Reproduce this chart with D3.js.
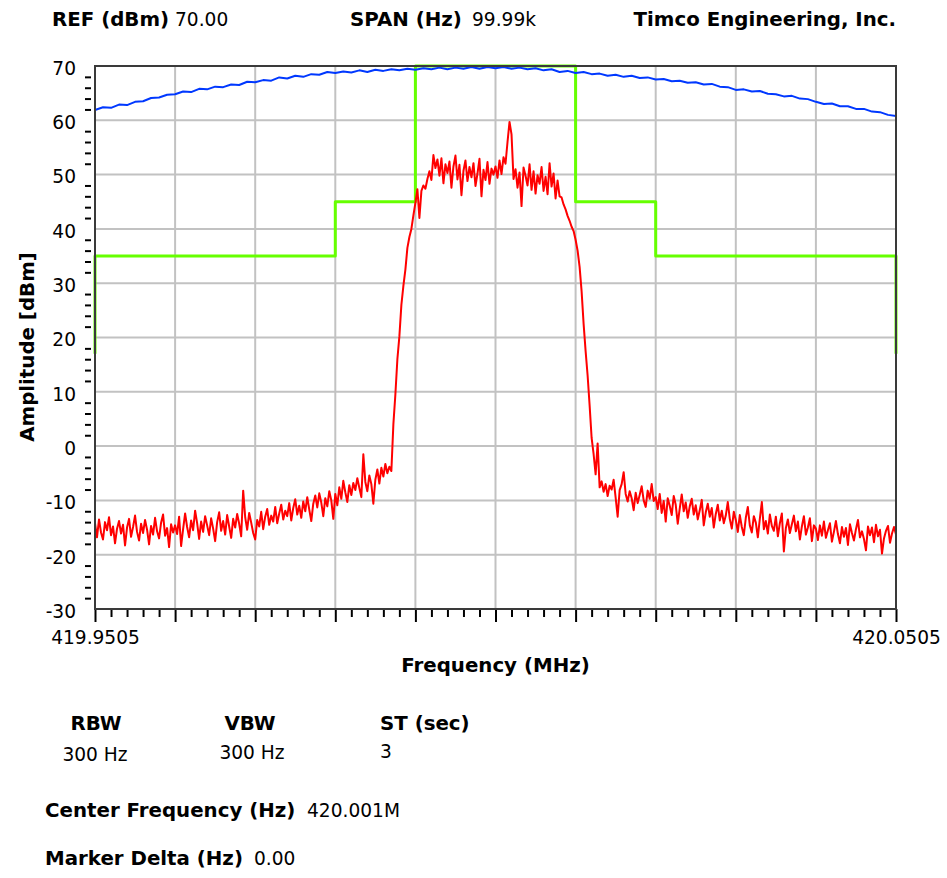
<!DOCTYPE html>
<html lang="en">
<head>
    <meta charset="UTF-8">
    <title>Spectrum Plot - Timco Engineering</title>
    <script src="https://d3js.org/d3.v7.min.js"></script>
    <style>
        body {
            margin: 0;
            background: #fff;
        }
        text {
            font-family: "DejaVu Sans", Verdana, sans-serif;
            fill: #000;
        }
        .bold {
            font-weight: bold;
            font-size: 19.8px;
        }
        .value {
            font-size: 18.6px;
        }
        .grid line {
            stroke: #c2c2c2;
            stroke-width: 2;
        }
        .tick-marks line {
            stroke: #000;
            stroke-width: 2;
        }
        .trace {
            fill: none;
            stroke-linejoin: round;
        }
    </style>
</head>
<body>

<div id="chart"></div>

<script>
    // sweep settings
    const startMHz = 419.9505;
    const stopMHz = 420.0505;
    const ampTicks = [70, 60, 50, 40, 30, 20, 10, 0, -10, -20, -30];
    const freqLabels = ["419.9505", "420.0505"];

    // measured trace (red), one sample every 0.25 kHz from the start frequency
    const traceStepKHz = 0.25;
    const measured = [
        -14.2, -16.8, -13.5, -15.9, -17.2, -14.0, -15.5, -13.1, -16.4, -14.8,
        -17.9, -15.2, -13.8, -16.1, -14.5, -18.3, -15.0, -13.4, -16.7, -14.9,
        -12.8, -15.8, -17.4, -14.3, -16.0, -13.6, -15.4, -18.1, -14.7, -16.3,
        -13.2, -15.7, -17.0, -14.1, -12.6, -16.5, -15.1, -18.6, -14.4, -15.9,

        -14.6, -16.2, -13.0, -18.4, -15.3, -12.4, -14.9, -16.8, -13.7, -15.5,
        -11.9, -14.2, -17.1, -13.9, -15.8, -12.9, -14.6, -16.4, -13.3, -15.2,
        -17.5, -14.0, -12.2, -15.6, -13.8, -16.3, -12.7, -14.8, -16.9, -13.4,
        -15.0, -12.5, -14.3, -16.6, -8.2, -13.1, -15.4, -12.3, -14.1, -16.0,

        -17.2, -13.6, -14.8, -12.1, -15.3, -13.0, -11.6, -14.5, -12.8, -13.9,
        -11.2, -14.2, -12.4, -10.8, -13.5, -11.9, -12.9, -10.5, -13.7, -11.4,
        -9.8, -12.6, -11.0, -13.2, -10.2, -12.0, -9.4, -11.7, -13.8, -10.6,
        -9.1, -11.3, -8.7, -10.4, -12.9, -9.6, -11.1, -8.3, -10.0, -13.4,

        -8.8, -10.9, -7.6, -9.7, -6.4, -8.5, -10.3, -7.2, -9.0, -6.8,
        -8.1, -5.9, -7.7, -9.4, -1.5, -6.6, -8.3, -5.4, -7.0, -10.6,
        -6.2, -4.3, -6.9, -4.0, -5.6, -3.3, -5.0, -3.8, -4.6, 4.0,
        9.5, 16.0, 20.2, 26.0, 29.5, 32.5, 36.5, 38.5, 40.0, 42.5,

        44.8, 47.3, 42.0, 47.0, 48.0, 47.4, 49.2, 50.6, 49.0, 53.6,
        51.2, 52.8, 49.8, 53.0, 48.4, 51.9, 50.3, 52.4, 47.6, 51.5,
        53.5, 49.1, 51.8, 46.2, 50.7, 52.6, 48.8, 51.4, 49.5, 52.1,
        47.9, 50.2, 52.9, 46.0, 50.9, 49.0, 52.3, 48.3, 51.1, 50.0,

        51.5, 49.4, 52.6, 50.1, 53.2, 52.0, 56.0, 59.7, 57.4, 49.2,
        51.0, 47.6, 50.4, 44.2, 51.3, 49.8, 48.0, 51.9, 47.2, 50.6,
        46.5, 49.9, 48.3, 51.4, 47.0, 49.6, 46.4, 52.1, 47.8, 50.2,
        45.6, 48.9, 46.0, 45.8, 44.5, 43.6, 42.4, 41.5, 40.4, 39.6,

        38.0, 36.0, 33.0, 28.5, 22.5, 17.5, 13.0, 7.5, 1.5, -1.5,
        -5.2, 0.5, -7.6, -6.5, -8.4, -7.0, -9.2, -7.3, -8.0, -6.2,
        -9.5, -13.0, -8.1, -7.0, -4.8, -8.8, -10.2, -8.3, -9.6, -11.8,
        -8.6, -10.5, -9.0, -7.4, -10.0, -11.2, -8.2, -9.7, -7.0, -10.1,

        -9.4, -11.6, -8.8, -12.3, -10.1, -13.9, -9.6, -11.0, -12.7, -9.2,
        -10.8, -14.3, -11.5, -8.9, -12.0, -10.4, -13.2, -11.1, -9.7, -12.6,
        -10.9, -13.5, -11.8, -9.9, -14.6, -12.2, -10.6, -13.0, -11.4, -15.0,
        -12.5, -10.8, -13.7, -11.9, -14.2, -12.8, -10.3, -13.4, -15.2, -12.1,

        -13.6, -15.8, -12.7, -14.9, -16.4, -13.2, -11.2, -14.6, -15.9, -12.9,
        -14.1, -16.8, -13.4, -10.3, -15.3, -13.8, -16.1, -12.6, -14.7, -15.6,
        -13.0, -16.6, -14.2, -12.4, -19.4, -15.1, -13.5, -16.0, -14.4, -12.8,
        -15.7, -13.9, -17.2, -14.8, -12.9, -16.3, -15.0, -13.3, -17.5, -14.6,

        -15.2, -17.3, -14.6, -16.5, -13.9, -16.9, -15.5, -14.2, -17.6, -15.8,
        -13.8, -16.2, -17.9, -14.9, -16.7, -15.1, -18.2, -14.4, -16.0, -17.4,
        -15.3, -13.6, -16.8, -15.7, -17.1, -19.2, -14.8, -16.4, -15.0, -17.7,
        -14.5, -16.6, -15.4, -19.8, -17.0, -15.6, -14.7, -17.8, -16.1, -14.9,
        -16.3
    ];

    // reference sweep (blue), one sample every 1 kHz
    const refStepKHz = 1;
    const reference = [
        61.9, 62.4, 62.3, 62.9, 62.8, 63.4, 63.5, 64.1, 64.2, 64.7,
        64.8, 65.3, 65.2, 65.8, 65.7, 66.2, 66.1, 66.6, 66.5, 67.1,
        67.0, 67.4, 67.3, 67.9, 67.7, 68.2, 68.0, 68.5, 68.4, 68.9,
        68.7, 69.0, 68.8, 69.2, 68.9, 69.3, 69.1, 69.4, 69.2, 69.5,
        69.3, 69.6, 69.4, 69.7, 69.4, 69.7, 69.5, 69.8, 69.5, 69.8,
        69.6, 69.8, 69.5, 69.7, 69.4, 69.6, 69.2, 69.4, 68.9, 69.1,
        68.7, 68.9, 68.5, 68.6, 68.2, 68.4, 68.0, 68.2, 67.8, 67.9,
        67.5, 67.6, 67.2, 67.3, 66.9, 67.0, 66.6, 66.7, 66.2, 66.1,
        65.6, 65.7, 65.3, 65.4, 64.9, 64.8, 64.4, 64.5, 64.0, 63.9,
        63.4, 63.0, 63.1, 62.6, 62.6, 62.1, 62.1, 61.6, 61.5, 61.0,
        60.8
    ];

    // emission mask (green): offset from start in kHz and limit in dBm
    const maskKHz  = [0, 0, 30, 30, 40, 40, 60, 60, 70, 70, 100, 100];
    const maskDbm  = [17, 35, 35, 45, 45, 70, 70, 45, 45, 35, 35, 17];

    const margin = { top: 66, right: 51, bottom: 269, left: 95 };
    const width = 947 - margin.left - margin.right;
    const height = 878 - margin.top - margin.bottom;

    const root = d3.select("#chart").append("svg")
        .attr("width", 947)
        .attr("height", 878);

    const svg = root.append("g")
        .attr("transform", "translate(" + margin.left + "," + margin.top + ")");

    const x = d3.scaleLinear()
        .domain([startMHz, stopMHz])
        .range([0, width]);

    const y = d3.scaleLinear()
        .domain([-30, 70])
        .range([height, 0]);

    const spanMHz = stopMHz - startMHz;
    const majorFreqs = d3.range(11).map(i => startMHz + i * spanMHz / 10);
    const minorFreqs = d3.range(51).map(i => startMHz + i * spanMHz / 50)
        .filter((d, i) => i % 5 !== 0);
    const minorAmps = d3.range(-30, 71, 2).filter(d => d % 10 !== 0);

    // grid
    svg.append("g")
        .attr("class", "grid")
        .selectAll("line.v")
        .data(majorFreqs.slice(1, -1))
        .enter().append("line")
        .attr("x1", d => x(d)).attr("x2", d => x(d))
        .attr("y1", 0).attr("y2", height);

    svg.select(".grid")
        .selectAll("line.h")
        .data(ampTicks.slice(1, -1))
        .enter().append("line")
        .attr("x1", 0).attr("x2", width)
        .attr("y1", d => y(d)).attr("y2", d => y(d));

    // y axis: minor dashes only, then labels (plain hyphen for negatives)
    svg.append("g")
        .attr("class", "tick-marks")
        .attr("transform", "translate(-4,0)")
        .call(d3.axisLeft(y).tickValues(minorAmps).tickSize(6).tickFormat(""))
        .call(g => g.select(".domain").remove());

    svg.append("g")
        .call(d3.axisLeft(y).tickValues(ampTicks).tickSize(0).tickPadding(19).tickFormat(d => String(d)))
        .call(g => g.select(".domain").remove())
        .selectAll("text")
        .attr("class", "value")
        .attr("dy", "0.45em");

    // x axis: major and minor ticks, labels only at the ends
    svg.append("g")
        .attr("class", "tick-marks")
        .attr("transform", "translate(0," + height + ")")
        .call(d3.axisBottom(x).tickValues(minorFreqs).tickSize(8).tickFormat(""))
        .call(g => g.select(".domain").remove());

    svg.append("g")
        .attr("class", "tick-marks")
        .attr("transform", "translate(0," + height + ")")
        .call(d3.axisBottom(x).tickValues(majorFreqs).tickSize(13).tickPadding(9)
            .tickFormat((d, i) => i === 0 ? freqLabels[0] : (i === majorFreqs.length - 1 ? freqLabels[1] : "")))
        .call(g => g.select(".domain").remove())
        .selectAll("text")
        .attr("class", "value");

    // traces
    const maskData = maskKHz.map((k, i) => ({ f: startMHz + k / 1000, v: maskDbm[i] }));
    const measuredData = measured.map((v, i) => ({ f: startMHz + i * traceStepKHz / 1000, v: v }));
    const referenceData = reference.map((v, i) => ({ f: startMHz + i * refStepKHz / 1000, v: v }));

    const line = d3.line()
        .x(d => x(d.f))
        .y(d => y(d.v));

    svg.append("path")
        .datum(maskData)
        .attr("class", "trace")
        .attr("stroke", "#66ff00")
        .attr("stroke-width", 3)
        .attr("d", line);

    svg.append("path")
        .datum(measuredData)
        .attr("class", "trace")
        .attr("stroke", "#ff0000")
        .attr("stroke-width", 2)
        .attr("d", line);

    svg.append("path")
        .datum(referenceData)
        .attr("class", "trace")
        .attr("stroke", "#0038ff")
        .attr("stroke-width", 2)
        .attr("d", line);

    // plot frame
    svg.append("rect")
        .attr("width", width)
        .attr("height", height)
        .attr("fill", "none")
        .attr("stroke", "#3a3a3a")
        .attr("stroke-width", 2);

    // axis titles
    root.append("text")
        .attr("class", "bold")
        .attr("text-anchor", "middle")
        .attr("transform", "translate(34,347) rotate(-90)")
        .text("Amplitude [dBm]");

    root.append("text")
        .attr("class", "bold")
        .attr("text-anchor", "middle")
        .attr("x", margin.left + width / 2)
        .attr("y", 672)
        .text("Frequency (MHz)");

    // header
    const header = root.append("g");
    header.append("text").attr("class", "bold").attr("x", 52).attr("y", 26).text("REF (dBm)");
    header.append("text").attr("class", "value").attr("x", 175).attr("y", 26).text("70.00");
    header.append("text").attr("class", "bold").attr("x", 350).attr("y", 26).text("SPAN (Hz)");
    header.append("text").attr("class", "value").attr("x", 472).attr("y", 26).text("99.99k");
    header.append("text").attr("class", "bold").attr("x", 896).attr("y", 26)
        .attr("text-anchor", "end").text("Timco Engineering, Inc.");

    // settings block
    const info = root.append("g");
    info.append("text").attr("class", "bold").attr("x", 96).attr("y", 730)
        .attr("text-anchor", "middle").text("RBW");
    info.append("text").attr("class", "value").attr("x", 95).attr("y", 761)
        .attr("text-anchor", "middle").text("300 Hz");
    info.append("text").attr("class", "bold").attr("x", 250).attr("y", 730)
        .attr("text-anchor", "middle").text("VBW");
    info.append("text").attr("class", "value").attr("x", 252).attr("y", 759)
        .attr("text-anchor", "middle").text("300 Hz");
    info.append("text").attr("class", "bold").attr("x", 380).attr("y", 730).text("ST (sec)");
    info.append("text").attr("class", "value").attr("x", 380).attr("y", 758).text("3");

    info.append("text").attr("class", "bold").attr("x", 45).attr("y", 817).text("Center Frequency (Hz)");
    info.append("text").attr("class", "value").attr("x", 307).attr("y", 817).text("420.001M");
    info.append("text").attr("class", "bold").attr("x", 45).attr("y", 865).text("Marker Delta (Hz)");
    info.append("text").attr("class", "value").attr("x", 254).attr("y", 865).text("0.00");
</script>

</body>
</html>
